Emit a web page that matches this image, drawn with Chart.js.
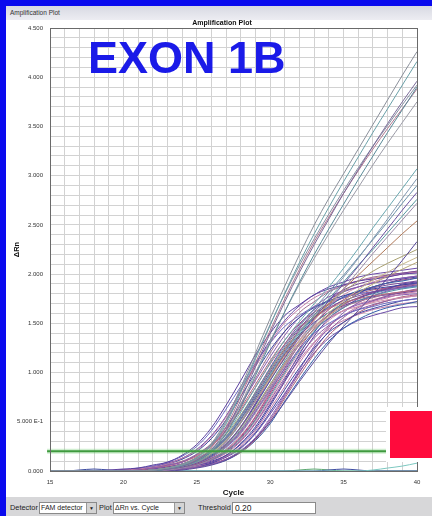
<!DOCTYPE html>
<html>
<head>
<meta charset="utf-8">
<script src="https://cdn.jsdelivr.net/npm/chart.js@4.4.1/dist/chart.umd.min.js"></script>
<style>
  html, body { margin: 0; padding: 0; }
  body { width: 432px; height: 516px; position: relative; overflow: hidden; background: #fff; font-family: "Liberation Sans", Arial, sans-serif; }
  #plot { position: absolute; left: 0; top: 0; }
  #blueTop { position: absolute; left: 0; top: 0; width: 432px; height: 6px; background: #0a0aee; }
  #blueLeft { position: absolute; left: 0; top: 0; width: 6px; height: 516px; background: #0a0aee; }
  #titleBar { position: absolute; left: 6px; top: 6px; width: 426px; height: 14px; background: linear-gradient(#d8d9e3, #ededf2); font-size: 6.5px; color: #333; line-height: 13px; padding-left: 4px; box-sizing: border-box; }
  #exon { position: absolute; left: 88px; top: 35px; font: bold 45px/45px "Liberation Sans", Arial, sans-serif; color: #1a1ae8; white-space: nowrap; }
  #redBox { position: absolute; left: 386px; top: 407px; width: 42px; height: 47px; background: #ff0a3c; border: 4px solid #fff; border-right: none; }
  #panel { position: absolute; left: 6px; top: 497px; width: 426px; height: 19px; background: #d7d7d9; font-size: 7.4px; color: #222; }
  #panel span { position: absolute; top: 6px; }
  .box { position: absolute; top: 5px; height: 10px; background: #fff; border: 1px solid #8a8a8a; box-sizing: content-box; font-size: 7px; line-height: 10px; padding-left: 1px; white-space: nowrap; overflow: hidden; }
  .box b { position: absolute; right: 0; top: 0; width: 9px; height: 10px; background: #d4d4d4; border-left: 1px solid #999; font-size: 5px; font-weight: normal; text-align: center; line-height: 10px; }
</style>
</head>
<body>
<canvas id="plot" width="432" height="516"></canvas>
<div id="blueTop"></div>
<div id="blueLeft"></div>
<div id="titleBar">Amplification Plot</div>
<div id="exon">EXON 1B</div>
<div id="redBox"></div>
<div id="panel">
  <span style="left:4px">Detector</span>
  <div class="box" style="left:33px;width:55px">FAM detector<b>▼</b></div>
  <span style="left:93px">Plot</span>
  <div class="box" style="left:107px;width:69px">ΔRn vs. Cycle<b>▼</b></div>
  <span style="left:192px">Threshold</span>
  <div class="box" style="left:226px;width:80px;font-size:8.5px;padding-left:2px">0.20</div>
</div>
<script>
// cycles 15..40
const cycles = [15,16,17,18,19,20,21,22,23,24,25,26,27,28,29,30,31,32,33,34,35,36,37,38,39,40];
const xTickLabels = ['15','20','25','30','35','40'];
const yTickLabels = ['0.000','5.000 E-1','1.000','1.500','2.000','2.500','3.000','3.500','4.000','4.500'];
const threshold = 0.2;
const thresholdSpan = [14.8, 40];

// main cluster, plateau about 1.7 - 2.0
const mainWells = [
  [0,0,0,0,0.01,0.02,0.03,0.06,0.09,0.16,0.27,0.44,0.67,0.92,1.18,1.40,1.58,1.69,1.79,1.85,1.89,1.93,1.95,1.97,2.00,2.01],
  [0,0,0,0,0,0.01,0.02,0.04,0.07,0.13,0.21,0.35,0.55,0.81,1.06,1.30,1.51,1.65,1.76,1.83,1.89,1.93,1.96,1.98,2.00,2.02],
  [0,0,0,0,0,0.01,0.02,0.04,0.07,0.12,0.20,0.33,0.52,0.76,1.00,1.23,1.42,1.56,1.66,1.73,1.78,1.82,1.85,1.87,1.89,1.91],
  [0,0,0,0,0,0.01,0.02,0.03,0.06,0.09,0.17,0.27,0.44,0.67,0.92,1.16,1.38,1.56,1.67,1.77,1.83,1.87,1.91,1.93,1.96,1.98],
  [0,0,0,0,0,0.01,0.01,0.03,0.05,0.09,0.15,0.25,0.41,0.62,0.85,1.09,1.29,1.46,1.56,1.65,1.71,1.75,1.78,1.80,1.82,1.84],
  [0,0,0,0,0,0,0.01,0.02,0.04,0.07,0.13,0.21,0.35,0.55,0.80,1.05,1.29,1.49,1.64,1.74,1.82,1.87,1.91,1.94,1.96,1.98],
  [0,0,0,0,0,0,0.01,0.02,0.04,0.07,0.12,0.20,0.33,0.52,0.76,1.00,1.23,1.42,1.56,1.66,1.73,1.78,1.82,1.85,1.87,1.89],
  [0,0,0,0,0,0,0.01,0.02,0.04,0.07,0.11,0.19,0.31,0.49,0.71,0.94,1.16,1.33,1.47,1.56,1.63,1.67,1.71,1.74,1.76,1.78],
  [0,0,0,0,0,0,0.01,0.02,0.03,0.06,0.09,0.16,0.27,0.44,0.67,0.92,1.16,1.38,1.56,1.67,1.77,1.83,1.87,1.91,1.93,1.96],
  [0,0,0,0,0,0,0.01,0.02,0.03,0.05,0.09,0.15,0.25,0.41,0.63,0.86,1.10,1.30,1.47,1.58,1.67,1.72,1.76,1.80,1.82,1.84],
  [0,0,0,0,0,0,0.01,0.02,0.03,0.05,0.08,0.14,0.24,0.39,0.60,0.82,1.04,1.24,1.40,1.50,1.58,1.64,1.67,1.71,1.73,1.75],
  [0,0,0,0,0,0,0,0.01,0.02,0.04,0.07,0.13,0.21,0.35,0.55,0.80,1.05,1.29,1.49,1.64,1.74,1.82,1.87,1.91,1.94,1.96],
  [0,0,0,0,0,0,0,0.01,0.02,0.04,0.07,0.12,0.20,0.33,0.52,0.76,1.00,1.23,1.42,1.56,1.66,1.73,1.78,1.82,1.85,1.87],
  [0,0,0,0,0,0,0,0.01,0.02,0.04,0.07,0.11,0.19,0.31,0.49,0.72,0.95,1.17,1.35,1.48,1.58,1.64,1.69,1.73,1.76,1.78],
  [0,0,0,0,0,0,0,0.01,0.02,0.03,0.06,0.09,0.16,0.27,0.43,0.66,0.91,1.15,1.37,1.55,1.66,1.75,1.81,1.85,1.90,1.92],
  [0,0,0,0,0,0,0,0.01,0.01,0.03,0.05,0.09,0.15,0.25,0.41,0.63,0.86,1.10,1.30,1.47,1.58,1.67,1.72,1.76,1.80,1.82],
  [0,0,0,0,0,0,0,0.01,0.01,0.03,0.05,0.08,0.15,0.24,0.39,0.60,0.83,1.05,1.25,1.41,1.51,1.60,1.65,1.69,1.73,1.75],
  [0,0,0,0,0,0,0,0,0.01,0.02,0.04,0.07,0.12,0.21,0.34,0.54,0.78,1.03,1.27,1.46,1.61,1.71,1.78,1.83,1.87,1.91],
  [0,0,0,0,0,0,0,0,0.01,0.02,0.04,0.07,0.12,0.19,0.32,0.50,0.74,0.97,1.19,1.38,1.51,1.61,1.68,1.73,1.77,1.79],
  [0,0,0,0,0,0.01,0.02,0.04,0.08,0.13,0.22,0.36,0.56,0.82,1.08,1.33,1.53,1.68,1.79,1.87,1.92,1.97,2.00,2.02,2.04,2.06],
  [0,0,0,0,0,0,0.01,0.02,0.03,0.06,0.10,0.17,0.28,0.45,0.69,0.95,1.21,1.44,1.62,1.74,1.84,1.90,1.94,1.99,2.01,2.03],
  [0,0,0,0,0,0,0,0.01,0.02,0.04,0.08,0.13,0.22,0.36,0.56,0.82,1.08,1.33,1.53,1.68,1.79,1.87,1.92,1.97,2.00,2.02],
  [0,0,0,0,0,0,0,0,0.01,0.02,0.04,0.07,0.11,0.19,0.31,0.48,0.71,0.93,1.14,1.32,1.45,1.54,1.61,1.66,1.69,1.72],
  [0,0,0,0,0,0.01,0.02,0.03,0.06,0.10,0.17,0.28,0.45,0.68,0.94,1.20,1.42,1.61,1.72,1.82,1.88,1.93,1.97,1.99,2.01,2.03],
  [0,0,0,0,0,0.01,0.03,0.05,0.09,0.15,0.25,0.41,0.63,0.86,1.10,1.30,1.47,1.58,1.67,1.72,1.76,1.80,1.82,1.84,1.86,1.88],
  [0,0,0,0,0,0,0,0.01,0.02,0.04,0.07,0.12,0.20,0.34,0.53,0.78,1.02,1.25,1.45,1.59,1.69,1.76,1.82,1.86,1.89,1.91],
  [0,0,0,0,0,0,0.01,0.02,0.03,0.06,0.09,0.16,0.26,0.42,0.64,0.88,1.12,1.33,1.50,1.61,1.70,1.76,1.80,1.84,1.86,1.88],
  [0,0,0,0,0,0,0,0,0.01,0.02,0.04,0.07,0.12,0.20,0.33,0.52,0.76,1.00,1.23,1.42,1.56,1.66,1.73,1.78,1.82,1.85],
  [0,0,0,0,0,0,0.01,0.02,0.04,0.07,0.12,0.19,0.32,0.50,0.74,0.97,1.19,1.38,1.51,1.61,1.68,1.73,1.77,1.79,1.81,1.83],
  [0,0,0,0,0,0,0,0.01,0.02,0.04,0.06,0.11,0.18,0.30,0.48,0.70,0.92,1.13,1.31,1.44,1.53,1.59,1.64,1.67,1.70,1.72],
  [0,0,0,0,0,0,0,0.01,0.02,0.03,0.06,0.10,0.16,0.28,0.45,0.68,0.93,1.19,1.41,1.59,1.71,1.80,1.87,1.91,1.95,1.97],
  [0,0,0,0,0,0,0.01,0.02,0.03,0.05,0.09,0.15,0.25,0.40,0.61,0.84,1.08,1.28,1.44,1.55,1.63,1.69,1.73,1.77,1.79,1.80],
  [0,0,0,0,0,0.01,0.02,0.03,0.06,0.09,0.16,0.26,0.42,0.64,0.88,1.12,1.33,1.50,1.61,1.70,1.76,1.80,1.84,1.86,1.88,1.90],
  [0,0,0,0,0,0,0,0.01,0.01,0.03,0.05,0.08,0.14,0.23,0.38,0.58,0.79,1.01,1.20,1.35,1.45,1.53,1.58,1.62,1.66,1.67],
  [0,0,0,0,0,0,0.01,0.02,0.04,0.07,0.12,0.20,0.34,0.53,0.78,1.02,1.25,1.45,1.59,1.69,1.76,1.82,1.86,1.89,1.91,1.93],
  [0,0,0,0,0,0,0,0.01,0.02,0.04,0.07,0.12,0.20,0.32,0.51,0.74,0.98,1.21,1.39,1.53,1.63,1.70,1.74,1.78,1.81,1.83]
];

// wells that keep climbing, 2.1 - 3.1 at cycle 40
const midWells = [
  [0,0,0,0,0,0,0,0.01,0.03,0.06,0.12,0.22,0.38,0.60,0.85,1.10,1.33,1.52,1.70,1.87,2.06,2.26,2.47,2.67,2.87,3.07],
  [0,0,0,0,0,0,0,0.01,0.02,0.05,0.09,0.17,0.30,0.49,0.72,0.97,1.21,1.42,1.61,1.79,1.97,2.16,2.36,2.56,2.77,2.97],
  [0,0,0,0,0,0,0,0.01,0.03,0.06,0.11,0.20,0.35,0.56,0.80,1.04,1.27,1.47,1.65,1.82,1.99,2.17,2.35,2.53,2.72,2.90],
  [0,0,0,0,0,0,0,0,0.02,0.04,0.08,0.15,0.27,0.45,0.68,0.92,1.15,1.36,1.55,1.73,1.90,2.08,2.27,2.46,2.65,2.83],
  [0,0,0,0,0,0,0,0.01,0.02,0.05,0.10,0.19,0.33,0.53,0.76,0.99,1.21,1.40,1.58,1.75,1.92,2.09,2.25,2.42,2.59,2.76],
  [0,0,0,0,0,0,0,0,0.01,0.03,0.06,0.12,0.22,0.38,0.59,0.83,1.07,1.29,1.49,1.67,1.85,2.03,2.21,2.38,2.55,2.72],
  [0,0,0,0,0,0,0,0.01,0.02,0.05,0.09,0.17,0.30,0.49,0.72,0.96,1.18,1.37,1.54,1.70,1.85,1.99,2.13,2.27,2.41,2.54],
  [0,0,0,0,0,0,0,0,0,0.01,0.03,0.06,0.11,0.20,0.33,0.50,0.70,0.91,1.11,1.30,1.47,1.63,1.79,1.96,2.14,2.33],
  [0,0,0,0,0,0,0,0.01,0.02,0.05,0.10,0.18,0.31,0.50,0.72,0.94,1.14,1.32,1.47,1.61,1.73,1.84,1.94,2.02,2.10,2.17],
  [0,0,0,0,0,0,0,0,0.02,0.04,0.08,0.15,0.27,0.44,0.65,0.88,1.09,1.28,1.44,1.58,1.70,1.81,1.90,1.98,2.05,2.12],
  [0,0,0,0,0,0,0,0.01,0.03,0.06,0.12,0.22,0.37,0.57,0.80,1.03,1.24,1.42,1.57,1.70,1.82,1.93,2.03,2.11,2.18,2.25]
];

// steep wells, 3.7 - 4.3 at cycle 40
const highWells = [
  [0,0,0,0,0,0,0,0.01,0.03,0.07,0.14,0.28,0.52,0.85,1.20,1.55,1.88,2.20,2.50,2.77,3.02,3.27,3.52,3.77,4.02,4.26],
  [0,0,0,0,0,0,0,0.01,0.03,0.06,0.13,0.26,0.48,0.80,1.14,1.48,1.81,2.12,2.41,2.68,2.94,3.19,3.44,3.68,3.92,4.16],
  [0,0,0,0,0,0,0,0.01,0.02,0.05,0.11,0.22,0.42,0.72,1.06,1.40,1.72,2.02,2.30,2.56,2.82,3.06,3.30,3.53,3.75,3.96],
  [0,0,0,0,0,0,0,0.01,0.03,0.07,0.14,0.27,0.50,0.82,1.16,1.49,1.80,2.09,2.36,2.61,2.85,3.08,3.30,3.51,3.72,3.92],
  [0,0,0,0,0,0,0,0,0.02,0.05,0.10,0.20,0.38,0.65,0.97,1.30,1.62,1.92,2.20,2.46,2.71,2.96,3.20,3.44,3.67,3.90],
  [0,0,0,0,0,0,0,0.01,0.02,0.05,0.10,0.21,0.40,0.68,1.00,1.32,1.62,1.90,2.16,2.41,2.65,2.88,3.11,3.33,3.54,3.75],
  [0,0,0,0,0,0,0,0.01,0.03,0.06,0.12,0.24,0.45,0.76,1.10,1.43,1.75,2.05,2.33,2.58,2.82,3.05,3.27,3.48,3.68,3.88]
];

// no amplification
const flatWells = [
  [0,0,0,0,0,0,0,0,0,0,0,0,0,0,0,0,0,0,0,0,0,0,0.01,0.03,0.05,0.08],
  [0,0,0.01,0.02,0.01,0,0,0,0,0,0,0,0,0,0,0,0,0,0,0.01,0.02,0.01,0,0,0,0],
  [0,0,0,0,0,0,0,0,0,0,0,0,0,0,0,0,0,0.01,0.02,0.01,0,0,0,0,0,0]
];

const mainColours = ['#5b3f9e','#c07aa8','#3d44a0','#8a5cb0','#b0647e','#6a4aa8','#7a4c98','#d494ac','#3560aa','#9f7090','#6e6cc4','#a14a82','#4f8fa6','#8e5aa0'];
const midColours = ['#6aa8b0','#8098b0','#6a90a8','#6850a0','#5898a0','#9a8aa8','#b07858','#5a4a9a','#c8b88a','#b8a878','#a8a070'];
const highColours = ['#8a8f9a','#6aa0a8','#7a6a98','#8890a4','#5a8a98','#9a9aa6','#b07890'];
const flatColours = ['#7cc8c0','#3b4aa0','#5aa870'];

const datasets = [];
function addWells(wells, colours) {
  wells.forEach((vals, i) => {
    datasets.push({
      data: vals.map((v, k) => ({ x: cycles[k], y: v })),
      borderColor: colours[i % colours.length],
      borderWidth: 1,
      pointRadius: 0,
      cubicInterpolationMode: 'monotone',
      fill: false
    });
  });
}
addWells(highWells, highColours);
addWells(midWells, midColours);
addWells(mainWells, mainColours);
addWells(flatWells, flatColours);

// threshold line with its faint halo
datasets.push({
  data: thresholdSpan.map(x => ({ x: x, y: threshold })),
  borderColor: 'rgba(120,205,120,0.35)', borderWidth: 5, pointRadius: 0, clip: false, order: -1
});
datasets.push({
  data: thresholdSpan.map(x => ({ x: x, y: threshold })),
  borderColor: '#3f9a3f', borderWidth: 2, pointRadius: 0, clip: false, order: -2
});

const frame = {
  id: 'frame',
  afterDatasetsDraw(chart) {
    const a = chart.chartArea, ctx = chart.ctx;
    ctx.save();
    ctx.strokeStyle = '#6a6a6a';
    ctx.lineWidth = 1;
    ctx.strokeRect(Math.round(a.left) + 0.5, Math.round(a.top) + 0.5, Math.round(a.right - a.left), Math.round(a.bottom - a.top));
    ctx.restore();
  }
};

const font = '"Liberation Sans", Arial, sans-serif';

new Chart(document.getElementById('plot'), {
  type: 'line',
  data: { datasets: datasets },
  plugins: [frame],
  options: {
    responsive: false,
    animation: false,
    layout: { padding: { left: 12, right: 0, top: 0, bottom: 18 } },
    plugins: {
      legend: { display: false },
      tooltip: { enabled: false },
      title: {
        display: true, text: 'Amplification Plot', color: '#111',
        font: { family: font, size: 7, weight: 'bold' },
        padding: { top: 18.8, bottom: 0.8 }
      }
    },
    scales: {
      x: {
        type: 'linear', min: 15, max: 40,
        afterFit: s => { s.height = 27; },
        border: { display: false },
        grid: { color: '#d2d2d2', drawTicks: false },
        ticks: {
          stepSize: 1, autoSkip: false, maxRotation: 0, padding: 8, color: '#333',
          font: { family: font, size: 6 },
          callback: v => ((v - 15) % 5 === 0 ? xTickLabels[(v - 15) / 5] : '')
        },
        title: { display: true, text: 'Cycle', color: '#111', font: { family: font, size: 8, weight: 'bold' }, padding: { top: 0, bottom: 0 } }
      },
      y: {
        type: 'linear', min: 0, max: 4.5,
        afterFit: s => { s.width = 38; },
        border: { display: false },
        grid: { color: '#d2d2d2', drawTicks: false },
        ticks: {
          stepSize: 0.1, autoSkip: false, padding: 7, color: '#333',
          font: { family: font, size: 6 },
          callback: v => {
            const r = Math.round(v * 10);
            return r % 5 === 0 ? yTickLabels[r / 5] : '';
          }
        },
        title: { display: true, text: 'ΔRn', color: '#111', font: { family: font, size: 7.5, weight: 'bold' }, padding: { top: 0, bottom: 0 } }
      },
      // empty strip right of the plot, as in the window
      yRight: {
        position: 'right', display: true,
        afterFit: s => { s.width = 15; },
        grid: { display: false },
        border: { display: false },
        ticks: { display: false }
      }
    }
  }
});
</script>
</body>
</html>
